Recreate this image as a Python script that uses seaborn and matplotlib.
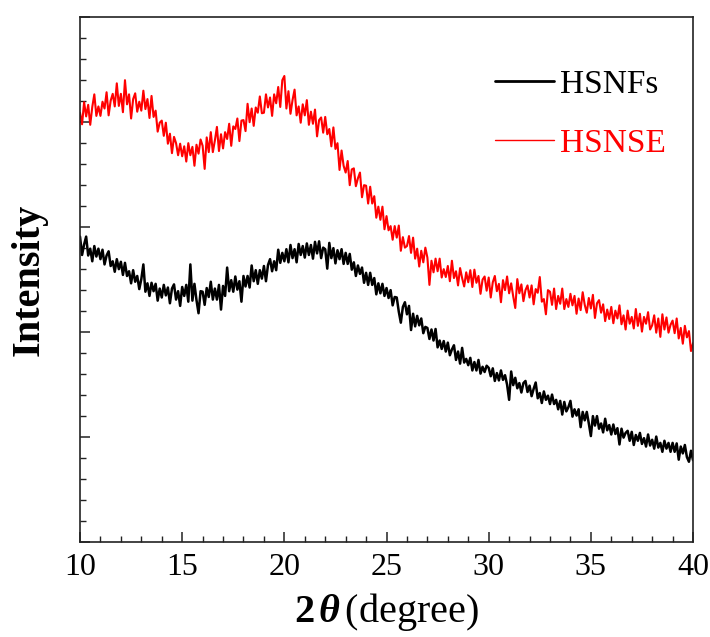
import numpy as np
import pandas as pd
import matplotlib
matplotlib.use("Agg")
import matplotlib.pyplot as plt
import seaborn as sns
from matplotlib.ticker import MultipleLocator, NullFormatter

# ---- data ----
scan_start = 10.0   # 2theta start, degree
scan_step = 0.1     # 2theta step, degree

hsnfs_intensity = [
    582, 547, 567, 582, 546, 559, 535, 564, 544, 559,
    539, 557, 529, 546, 554, 526, 535, 515, 539, 520,
    534, 509, 532, 507, 516, 493, 518, 496, 507, 482,
    501, 529, 477, 493, 469, 494, 478, 492, 460, 483,
    466, 490, 470, 485, 455, 483, 491, 462, 478, 450,
    486, 469, 490, 458, 529, 460, 492, 461, 436, 478,
    477, 452, 484, 467, 496, 462, 483, 462, 490, 443,
    488, 469, 523, 478, 499, 477, 506, 481, 497, 458,
    507, 487, 507, 485, 527, 497, 518, 492, 518, 502,
    526, 497, 528, 539, 516, 535, 518, 557, 532, 551,
    535, 558, 533, 566, 541, 558, 533, 568, 547, 564,
    542, 569, 547, 566, 540, 572, 550, 573, 541, 561,
    558, 521, 570, 541, 560, 531, 556, 539, 558, 530,
    551, 530, 549, 519, 533, 507, 527, 511, 523, 494,
    513, 490, 513, 490, 503, 472, 493, 474, 492, 469,
    484, 465, 480, 451, 467, 466, 439, 418, 448, 457,
    434, 450, 404, 435, 411, 431, 413, 426, 398, 410,
    408, 387, 405, 384, 406, 371, 384, 368, 383, 363,
    380, 356, 367, 375, 347, 363, 340, 370, 342, 349,
    337, 351, 327, 343, 327, 347, 321, 334, 324, 336,
    332, 316, 331, 307, 322, 308, 327, 309, 318, 300,
    271, 325, 299, 313, 293, 303, 285, 303, 307, 286,
    298, 278, 292, 304, 274, 284, 265, 287, 271, 279,
    263, 281, 263, 271, 253, 269, 243, 267, 249, 257,
    269, 239, 253, 241, 253, 219, 248, 232, 248, 226,
    202, 240, 222, 240, 216, 226, 209, 235, 213, 223,
    205, 224, 206, 217, 186, 216, 199, 208, 212, 193,
    210, 185, 204, 193, 208, 187, 198, 182, 205, 184,
    195, 178, 201, 180, 189, 172, 193, 178, 189, 172,
    189, 172, 188, 157, 182, 169, 185, 162, 153, 174, 156,
]

hsnse_intensity = [
    818, 796, 838, 811, 833, 795, 829, 853, 812, 830,
    812, 839, 826, 857, 813, 841, 854, 830, 874, 831,
    854, 819, 880, 834, 853, 807, 844, 855, 820, 839,
    822, 860, 825, 844, 808, 850, 810, 822, 782, 799,
    803, 774, 799, 759, 778, 741, 772, 760, 737, 759,
    735, 754, 725, 760, 737, 753, 717, 757, 740, 767,
    755, 711, 771, 743, 781, 743, 765, 791, 745, 777,
    750, 781, 768, 797, 755, 792, 787, 807, 764, 803,
    804, 783, 835, 800, 826, 793, 828, 818, 849, 817,
    818, 853, 828, 847, 812, 853, 836, 867, 829, 880,
    888, 826, 859, 816, 842, 862, 813, 830, 799, 834,
    813, 842, 795, 820, 797, 824, 773, 804, 809, 780,
    810, 777, 787, 754, 790, 749, 760, 709, 746, 717,
    704, 726, 680, 710, 712, 678, 693, 704, 657, 680,
    679, 645, 677, 645, 659, 618, 639, 614, 639, 596,
    621, 594, 602, 576, 602, 580, 603, 555, 581, 561,
    564, 583, 551, 580, 540, 559, 525, 555, 533, 561,
    542, 490, 536, 514, 540, 516, 540, 504, 520, 505,
    526, 497, 536, 503, 516, 489, 522, 503, 487, 514,
    495, 518, 486, 519, 494, 507, 473, 500, 506, 479,
    504, 466, 495, 507, 478, 492, 457, 499, 480, 506,
    474, 493, 468, 446, 501, 474, 491, 459, 480, 489,
    466, 489, 453, 482, 475, 505, 458, 463, 434, 480,
    477, 452, 483, 444, 469, 454, 483, 444, 463, 448,
    473, 451, 469, 435, 464, 442, 476, 452, 437, 465,
    445, 471, 427, 455, 461, 437, 453, 421, 443, 425,
    448, 417, 441, 426, 451, 415, 432, 405, 441, 416,
    429, 407, 444, 412, 435, 401, 429, 416, 438, 405,
    413, 432, 399, 426, 391, 434, 405, 428, 399, 414,
    422, 398, 426, 388, 408, 378, 412, 390, 402, 364, 379,
]

sample_names = ["HSNFs", "HSNSE"]
sample_colors = ["black", "red"]
x_tick_labels = ["10", "15", "20", "25", "30", "35", "40"]

# ---- build table ----
two_theta = np.round(scan_start + scan_step * np.arange(len(hsnfs_intensity)), 2)
df = pd.concat([
    pd.DataFrame({"two_theta": two_theta, "intensity": hsnfs_intensity, "sample": sample_names[0]}),
    pd.DataFrame({"two_theta": two_theta, "intensity": hsnse_intensity, "sample": sample_names[1]}),
], ignore_index=True)

# ---- style ----
sns.set_theme(style="ticks")
plt.rcParams["font.family"] = ["Liberation Serif", "DejaVu Serif"]
plt.rcParams["mathtext.fontset"] = "custom"
plt.rcParams["mathtext.rm"] = "Liberation Serif"
plt.rcParams["mathtext.it"] = "Liberation Serif:italic"
plt.rcParams["mathtext.bf"] = "Liberation Serif:bold"
plt.rcParams["mathtext.bfit"] = "Liberation Serif:bold:italic"
plt.rcParams["text.color"] = "black"
plt.rcParams["axes.labelcolor"] = "black"
plt.rcParams["xtick.labelcolor"] = "black"

fig = plt.figure(figsize=(7.10, 6.37), dpi=100)
ax = fig.add_axes([0.1127, 0.149, 0.8634, 0.824])

line_widths = {"HSNFs": 1.8, "HSNSE": 1.5}
legend_widths = {"HSNFs": 2.0, "HSNSE": 1.0}
for name, color in zip(sample_names, sample_colors):
    sub = df[df["sample"] == name]
    sns.lineplot(data=sub, x="two_theta", y="intensity", color=color,
                 lw=line_widths[name], estimator=None, sort=False,
                 label=name, ax=ax)

ax.set_xlim(10, 40)
ax.set_ylim(0, 1000)
ax.set_xticks([int(t) for t in x_tick_labels])
ax.set_xticklabels(x_tick_labels)
ax.xaxis.set_minor_locator(MultipleLocator(1))
ax.yaxis.set_major_locator(MultipleLocator(200))
ax.yaxis.set_minor_locator(MultipleLocator(40))
ax.yaxis.set_major_formatter(NullFormatter())

ax.tick_params(axis="both", which="major", direction="in", length=7.5, width=1.1,
               color="#222222", labelcolor="black", labelsize=23, top=False, right=False)
ax.tick_params(axis="both", which="minor", direction="in", length=4, width=1.0,
               color="#222222", top=False, right=False)
ax.tick_params(axis="x", which="major", pad=8)
for sp in ax.spines.values():
    sp.set_linewidth(1.2)
    sp.set_color("#222222")
    sp.set_visible(True)

ax.set_xlabel(r"$\mathbf{2}\,\mathbfit{\theta}\,$(degree)", fontsize=29, labelpad=6, color="black")
ax.set_ylabel("Intensity", fontsize=29, fontweight="bold", labelpad=20, color="black")

leg = ax.legend(loc="upper left", bbox_to_anchor=(0.656, 0.926), frameon=False,
                fontsize=24, handlelength=1.75, handletextpad=0.2,
                labelspacing=0.85, borderaxespad=0)
for txt, color in zip(leg.get_texts(), sample_colors):
    txt.set_color(color)
for handle, name in zip(leg.legend_handles, sample_names):
    handle.set_linewidth(legend_widths[name])

fig.savefig("out.png", dpi=100)
